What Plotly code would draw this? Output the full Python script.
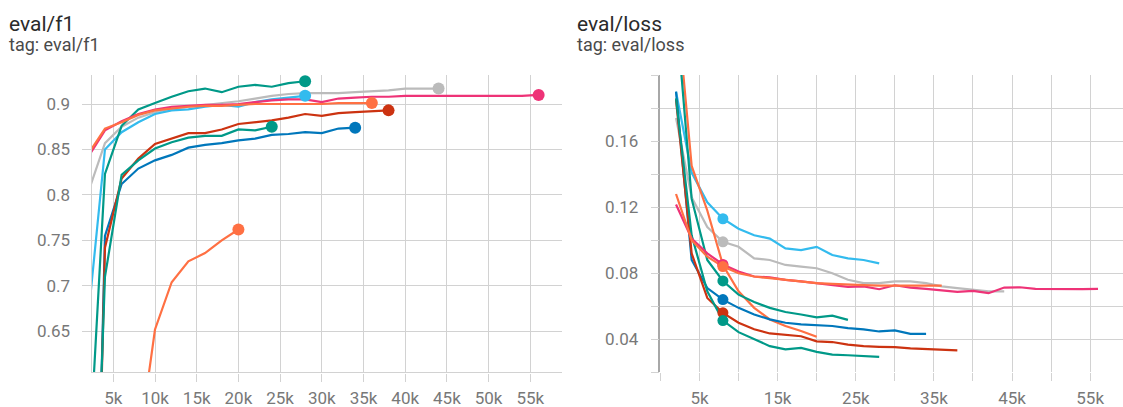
import plotly.graph_objects as go

# ---------------- data ----------------
steps = [2000 * i for i in range(1, 29)]  # 2k .. 56k

x_tick_vals_f1 = [5000 * i for i in range(1, 12)]
x_tick_text_f1 = ["5k", "10k", "15k", "20k", "25k", "30k", "35k", "40k", "45k", "50k", "55k"]
y_tick_vals_f1 = [0.65, 0.7, 0.75, 0.8, 0.85, 0.9]
y_tick_text_f1 = ["0.65", "0.7", "0.75", "0.8", "0.85", "0.9"]

x_tick_vals_loss = [5000 * i for i in range(0, 12)]
x_tick_text_loss = ["", "5k", "", "15k", "", "25k", "", "35k", "", "45k", "", "55k"]
y_tick_vals_loss = [0.02, 0.04, 0.06, 0.08, 0.10, 0.12, 0.14, 0.16, 0.18, 0.20]
y_tick_text_loss = ["", "0.04", "", "0.08", "", "0.12", "", "0.16", "", ""]

run_names = ["gray", "lightblue", "orangeA", "blue", "red", "tealA", "tealB", "pink", "orangeB"]
run_colors = ["#bbbbbb", "#33bbee", "#ff7043", "#0077bb", "#cc3311", "#009988", "#009988", "#ee3377", "#ff7043"]

f1_gray = [0.803, 0.857, 0.875, 0.885, 0.891, 0.895, 0.897, 0.899, 0.901, 0.903, 0.906, 0.909, 0.911,
           0.912, 0.912, 0.912, 0.913, 0.914, 0.915, 0.917, 0.917, 0.917]
f1_lightblue = [0.666, 0.850, 0.869, 0.880, 0.889, 0.893, 0.894, 0.897, 0.899, 0.897, 0.902, 0.905, 0.907, 0.909]
f1_orangeA = [0.02, 0.12, 0.31, 0.52, 0.652, 0.704, 0.727, 0.736, 0.750, 0.762]
f1_blue = [0.0, 0.755, 0.812, 0.829, 0.838, 0.844, 0.852, 0.855, 0.857, 0.860, 0.862, 0.866, 0.867,
           0.869, 0.868, 0.873, 0.874]
f1_red = [0.0, 0.742, 0.818, 0.840, 0.856, 0.862, 0.868, 0.868, 0.872, 0.878, 0.880, 0.882, 0.885,
          0.889, 0.887, 0.890, 0.891, 0.892, 0.893]
f1_tealA = [0.19, 0.71, 0.822, 0.838, 0.851, 0.858, 0.863, 0.865, 0.865, 0.872, 0.871, 0.875]
f1_tealB = [0.49, 0.823, 0.876, 0.894, 0.901, 0.908, 0.914, 0.917, 0.913, 0.919, 0.921, 0.919, 0.923, 0.925]
f1_pink = [0.842, 0.871, 0.881, 0.889, 0.894, 0.897, 0.898, 0.899, 0.899, 0.900, 0.902, 0.904, 0.905,
           0.905, 0.902, 0.906, 0.907, 0.908, 0.908, 0.909, 0.909, 0.909, 0.909, 0.909, 0.909, 0.909,
           0.909, 0.910]
f1_orangeB = [0.845, 0.873, 0.880, 0.888, 0.893, 0.895, 0.897, 0.898, 0.898, 0.899, 0.900, 0.900, 0.900,
              0.900, 0.900, 0.901, 0.901, 0.901]

loss_gray = [0.174, 0.126, 0.108, 0.099, 0.096, 0.089, 0.088, 0.085, 0.084, 0.083, 0.080, 0.076, 0.074,
             0.074, 0.075, 0.075, 0.074, 0.072, 0.071, 0.070, 0.069, 0.069]
loss_lightblue = [0.19, 0.141, 0.123, 0.113, 0.107, 0.103, 0.101, 0.095, 0.094, 0.096, 0.091, 0.089, 0.088, 0.086]
loss_orangeA = [0.249, 0.145, 0.118, 0.085, 0.069, 0.059, 0.052, 0.048, 0.045, 0.0415]
loss_blue = [0.19, 0.088, 0.071, 0.064, 0.059, 0.055, 0.052, 0.050, 0.049, 0.0487, 0.048, 0.0467, 0.046,
             0.0447, 0.0453, 0.0433, 0.0433]
loss_red = [0.185, 0.092, 0.065, 0.056, 0.050, 0.046, 0.0435, 0.0428, 0.0418, 0.0387, 0.0383, 0.0367,
            0.0358, 0.0354, 0.0352, 0.0345, 0.0342, 0.0337, 0.0333]
loss_tealA = [0.24, 0.125, 0.088, 0.0753, 0.067, 0.0625, 0.059, 0.0565, 0.055, 0.0533, 0.0543, 0.0517]
loss_tealB = [0.186, 0.103, 0.069, 0.0513, 0.0443, 0.040, 0.0358, 0.0339, 0.0347, 0.0323, 0.0307, 0.0303,
              0.0299, 0.0293]
loss_pink = [0.1216, 0.101, 0.092, 0.0853, 0.081, 0.078, 0.0775, 0.076, 0.075, 0.074, 0.0727, 0.0717,
             0.072, 0.0703, 0.0727, 0.0713, 0.0705, 0.0695, 0.0687, 0.0693, 0.0679, 0.0713, 0.0715,
             0.0705, 0.0703, 0.0703, 0.0703, 0.0705]
loss_orangeB = [0.128, 0.100, 0.090, 0.084, 0.080, 0.078, 0.077, 0.076, 0.075, 0.074, 0.0735, 0.073,
                0.0728, 0.0725, 0.0725, 0.0725, 0.0728, 0.0725]

f1_runs = [f1_gray, f1_lightblue, f1_orangeA, f1_blue, f1_red, f1_tealA, f1_tealB, f1_pink, f1_orangeB]
loss_runs = [loss_gray, loss_lightblue, loss_orangeA, loss_blue, loss_red, loss_tealA, loss_tealB,
             loss_pink, loss_orangeB]
hover_step_index = 3  # step 8k highlighted on the loss chart

# ---------------- styling ----------------
W, H = 1123, 407
FONT = "Roboto"
GRID = "#d2d2d2"
TICKFONT = dict(family=FONT, size=17, color="#787878")


def px_x(p):
    return p / W


def px_y(p):
    return 1 - p / H


fig = go.Figure()

for name, color, f1, loss in zip(run_names, run_colors, f1_runs, loss_runs):
    xs = steps[:len(f1)]
    fig.add_trace(go.Scatter(x=xs, y=f1, mode="lines", line=dict(color=color, width=2.2),
                             xaxis="x", yaxis="y", name=name, showlegend=False, hoverinfo="skip"))
    xl = steps[:len(loss)]
    fig.add_trace(go.Scatter(x=xl, y=loss, mode="lines", line=dict(color=color, width=2.2),
                             xaxis="x2", yaxis="y2", name=name, showlegend=False, hoverinfo="skip"))

for name, color, f1, loss in zip(run_names, run_colors, f1_runs, loss_runs):
    fig.add_trace(go.Scatter(x=[steps[len(f1) - 1]], y=[f1[-1]], mode="markers",
                             marker=dict(color=color, size=12), xaxis="x", yaxis="y",
                             showlegend=False, hoverinfo="skip", cliponaxis=False))
    fig.add_trace(go.Scatter(x=[steps[hover_step_index]], y=[loss[hover_step_index]], mode="markers",
                             marker=dict(color=color, size=11), xaxis="x2", yaxis="y2",
                             showlegend=False, hoverinfo="skip", cliponaxis=False))

plot_top, plot_bottom = 75, 372.4
ydom = [px_y(plot_bottom), px_y(plot_top)]

fig.update_layout(
    width=W, height=H,
    margin=dict(l=0, r=0, t=0, b=0),
    paper_bgcolor="white", plot_bgcolor="white",
    showlegend=False,
    xaxis=dict(domain=[px_x(91.7), px_x(562)], range=[2410, 58800],
               tickmode="array", tickvals=x_tick_vals_f1, ticktext=x_tick_text_f1,
               showgrid=True, gridcolor=GRID, gridwidth=1.4, zeroline=False,
               showline=True, linecolor=GRID, linewidth=1.4,
               ticks="outside", ticklen=8, tickcolor=GRID, tickwidth=1.4,
               tickfont=TICKFONT, ticklabelstandoff=2, fixedrange=True, automargin=False),
    yaxis=dict(domain=ydom, range=[0.6048, 0.9319],
               tickmode="array", tickvals=y_tick_vals_f1, ticktext=y_tick_text_f1,
               showgrid=True, gridcolor=GRID, gridwidth=1.4, zeroline=False,
               showline=True, linecolor=GRID, linewidth=1.4,
               ticks="outside", ticklen=9, tickcolor=GRID, tickwidth=1.4,
               tickfont=TICKFONT, ticklabelstandoff=8, fixedrange=True, automargin=False),
    xaxis2=dict(domain=[px_x(660.4), 1.0], range=[0, 59200], anchor="y2",
                tickmode="array", tickvals=x_tick_vals_loss, ticktext=x_tick_text_loss,
                showgrid=True, gridcolor=GRID, gridwidth=1.4, zeroline=False,
                showline=False,
                ticks="outside", ticklen=8, tickcolor=GRID, tickwidth=1.4,
                tickfont=TICKFONT, ticklabelstandoff=2, fixedrange=True, automargin=False),
    yaxis2=dict(domain=ydom, range=[0.0199, 0.2001], anchor="x2",
                tickmode="array", tickvals=y_tick_vals_loss, ticktext=y_tick_text_loss,
                showgrid=True, gridcolor=GRID, gridwidth=1.4, zeroline=False,
                showline=True, linecolor="#a8a8a8", linewidth=1.5,
                ticks="outside", ticklen=8, tickcolor=GRID, tickwidth=1.4,
                tickfont=TICKFONT, ticklabelstandoff=9, fixedrange=True, automargin=False),
)

titles = [("eval/f1", "tag: eval/f1", 7), ("eval/loss", "tag: eval/loss", 575)]
for title, tag, xpix in titles:
    fig.add_annotation(text=title, xref="paper", yref="paper", x=px_x(xpix), y=px_y(23.5),
                       xanchor="left", yanchor="middle", showarrow=False,
                       font=dict(family=FONT, size=21, color="#2b2b2b"))
    fig.add_annotation(text=tag, xref="paper", yref="paper", x=px_x(xpix), y=px_y(45),
                       xanchor="left", yanchor="middle", showarrow=False,
                       font=dict(family=FONT, size=18, color="#4a4a4a"))

fig.write_html("out.html", config={"displayModeBar": False},
               post_script="document.body.style.margin='0';document.body.style.overflow='hidden';")
